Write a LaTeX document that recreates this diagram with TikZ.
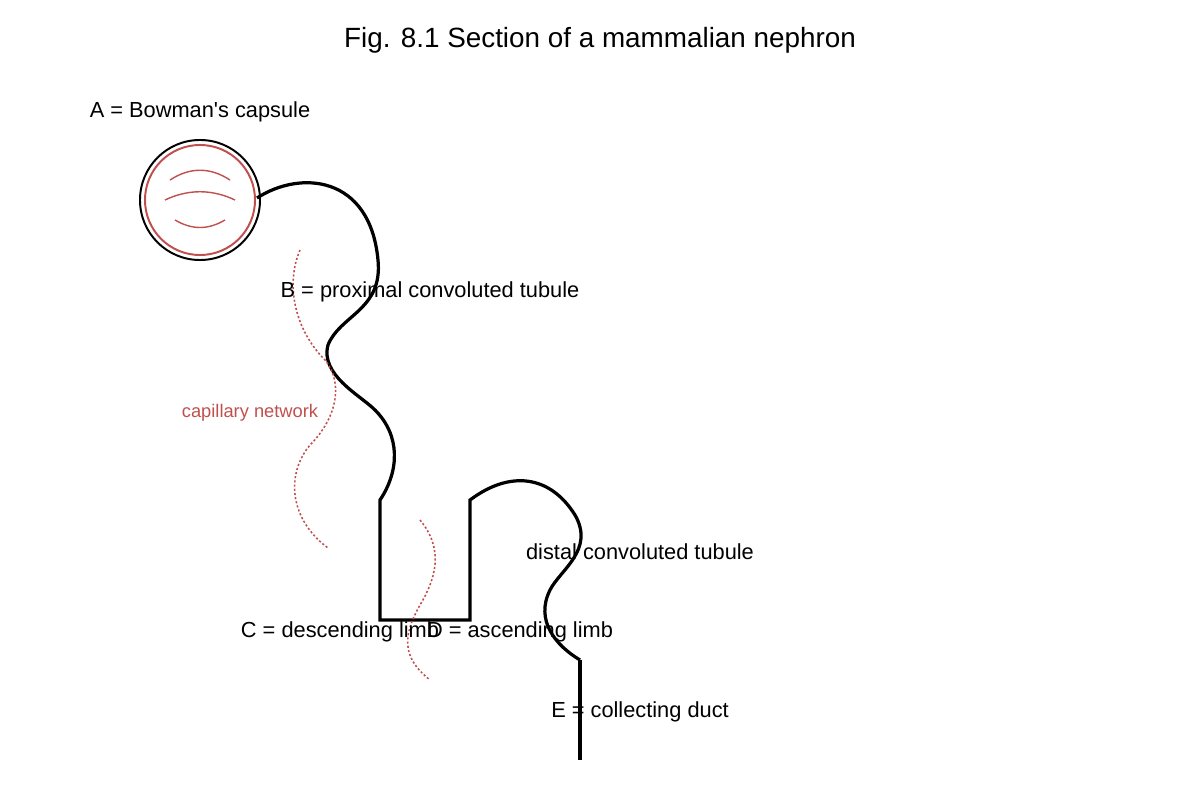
\documentclass[tikz,border=0pt]{standalone}
\usepackage{fontspec}
\setmainfont[Mapping=]{Liberation Sans}
\definecolor{capred}{RGB}{192,80,77}
\begin{document}
\begin{tikzpicture}[x=0.025cm,y=-0.025cm,
  lbl/.style={font=\fontsize{15.5}{18}\selectfont},
  tub/.style={line width=2.3pt,black},
  capl/.style={capred,dash pattern=on 1.5pt off 1.5pt,line width=1.1pt}]
\useasboundingbox (0,0) rectangle (1200,800);
\node[font=\fontsize{19.8}{22}\selectfont] (title) at (600,40) {Fig. 8.1 Section of a mammalian nephron};
\node[lbl] (la) at (200,112) {A = Bowman\textquotesingle s capsule};
\node[circle,draw,line width=1.4pt,minimum size=3cm,inner sep=0] (bc) at (200,200) {};
\node[circle,draw=capred,line width=1.4pt,minimum size=2.75cm,inner sep=0] (bci) at (200,200) {};
\draw[capred,line width=1pt] (170,180) .. controls (190,167) and (210,167) .. (230,180);
\draw[capred,line width=1pt] (165,200) .. controls (188,189) and (212,189) .. (235,200);
\draw[capred,line width=1pt] (175,220) .. controls (192,230) and (208,230) .. (225,220);
\coordinate (t0) at (257,198);
\coordinate (t1) at (380,500);
\coordinate (t2) at (380,620);
\coordinate (t3) at (470,620);
\coordinate (t4) at (470,500);
\coordinate (t5) at (580,660);
\coordinate (t6) at (580,760);
\draw[tub] (t0) .. controls (300,170) and (370,175) .. (378,260)
  .. controls (383,310) and (340,315) .. (328,345)
  .. controls (320,375) and (360,395) .. (375,410)
  .. controls (400,435) and (400,470) .. (t1) -- (t2) -- (t3) -- (t4)
  .. controls (510,470) and (550,475) .. (575,515)
  .. controls (595,550) and (560,570) .. (550,590)
  .. controls (535,620) and (555,645) .. (t5);
\draw[line width=2.8pt] (t5) -- (t6);
\draw[capl] (300,250) .. controls (285,285) and (295,330) .. (325,360)
  .. controls (345,385) and (335,420) .. (310,445)
  .. controls (285,475) and (290,520) .. (328,548);
\draw[capl] (420,520) .. controls (445,550) and (435,580) .. (420,605)
  .. controls (400,640) and (405,660) .. (430,680);
\node[lbl] (lb) at (430,292) {B = proximal convoluted tubule};
\node[capred,font=\fontsize{13}{15}\selectfont] (lcap) at (250,413) {capillary network};
\node[lbl] (ld) at (640,552) {distal convoluted tubule};
\node[lbl] (lc) at (340,632) {C = descending limb};
\node[lbl] (ldd) at (520,632) {D = ascending limb};
\node[lbl] (le) at (640,712) {E = collecting duct};
\end{tikzpicture}
\end{document}
